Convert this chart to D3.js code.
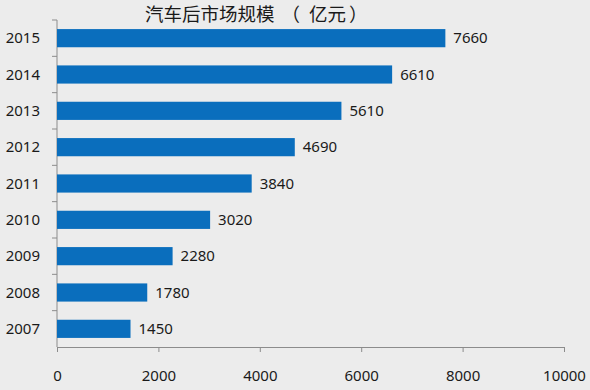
<!DOCTYPE html>
<meta charset="utf-8">
<style>
body { margin: 0; background: #ececec; }
svg { display: block; background: #ececec; }
text { font-family: 'Noto Sans', sans-serif; fill: #1a1a1a; }
.title { font-family: 'Noto Sans CJK SC', sans-serif; font-size: 18.5px; }
.axis path, .axis line { stroke: #8c8c8c; }
.axis text { font-size: 15px; }
.bar { fill: #0a6ebd; }
.label { font-size: 15px; }
</style>
<body>
<script src="https://d3js.org/d3.v7.min.js"></script>
<script>

// data
var years = ["2007", "2008", "2009", "2010", "2011", "2012", "2013", "2014", "2015"];
var values = [1450, 1780, 2280, 3020, 3840, 4690, 5610, 6610, 7660];
var xTicks = [0, 2000, 4000, 6000, 8000, 10000];
var titleParts = ["汽车后市场规模", "（", "亿元", "）"];

var margin = {top: 20, right: 26, bottom: 43, left: 57},
    width = 590 - margin.left - margin.right,
    height = 390 - margin.top - margin.bottom;

var svg = d3.select("body").append("svg")
    .attr("width", 590)
    .attr("height", 390);

var g = svg.append("g")
    .attr("transform", "translate(" + margin.left + "," + margin.top + ")");

var x = d3.scaleLinear().domain([0, 10000]).range([0, width]);
var y = d3.scaleBand()
    .domain(years.slice().reverse())
    .range([0, height])
    .paddingInner(0.5)
    .paddingOuter(0.25);

// x axis
g.append("g")
    .attr("class", "axis")
    .attr("transform", "translate(0," + height + ")")
    .call(d3.axisBottom(x).tickValues(xTicks).tickSize(5).tickSizeOuter(0).tickPadding(18).tickFormat(d3.format("d")));

// y axis, ticks sit between the bars
var yAxis = g.append("g").attr("class", "axis");
yAxis.append("line")
    .attr("x1", 0).attr("x2", 0)
    .attr("y1", 0).attr("y2", height);
var bounds = d3.range(years.length).map(function(i) { return i * y.step(); });
yAxis.selectAll(".ytick")
    .data(bounds)
  .enter().append("line")
    .attr("x1", -5).attr("x2", 0)
    .attr("y1", function(d) { return d; })
    .attr("y2", function(d) { return d; });
yAxis.selectAll(".ylab")
    .data(years)
  .enter().append("text")
    .attr("x", -17)
    .attr("y", function(d) { return y(d) + y.bandwidth() / 2; })
    .attr("dy", "0.35em")
    .style("text-anchor", "end")
    .style("font-size", "15px")
    .text(function(d) { return d; });

var data = years.map(function(d, i) { return {year: d, value: values[i]}; });

g.selectAll(".bar")
    .data(data)
  .enter().append("rect")
    .attr("class", "bar")
    .attr("x", 0)
    .attr("y", function(d) { return y(d.year); })
    .attr("width", function(d) { return x(d.value); })
    .attr("height", y.bandwidth());

g.selectAll(".label")
    .data(data)
  .enter().append("text")
    .attr("class", "label")
    .attr("x", function(d) { return x(d.value) + 8; })
    .attr("y", function(d) { return y(d.year) + y.bandwidth() / 2; })
    .attr("dy", "0.35em")
    .text(function(d) { return d.value; });

// title, the brackets get a bit of extra room like the original
var tspanDx = [0, 7, 9, 3];
svg.append("text")
    .attr("class", "title")
    .attr("x", 145)
    .attr("y", 21)
    .selectAll("tspan")
    .data(titleParts)
  .enter().append("tspan")
    .attr("dx", function(d, i) { return tspanDx[i]; })
    .text(function(d) { return d; });

</script>
</body>
